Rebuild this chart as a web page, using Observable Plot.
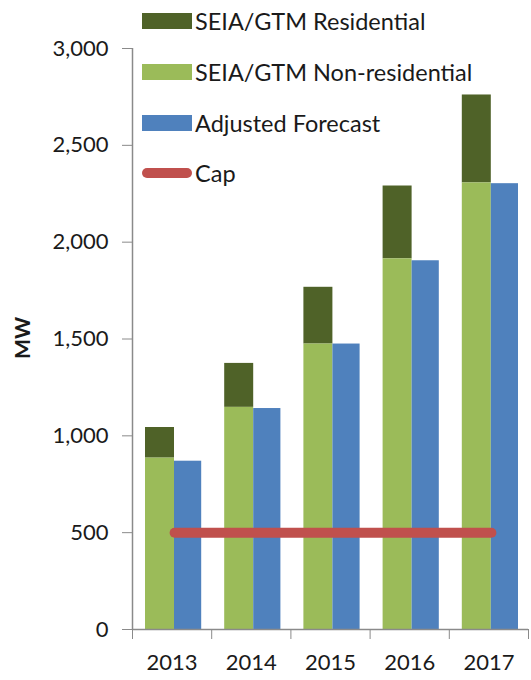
<!DOCTYPE html>
<html>
<head>
<meta charset="utf-8">
<script src="https://cdn.jsdelivr.net/npm/d3@7"></script>
<script src="https://cdn.jsdelivr.net/npm/@observablehq/plot@0.6"></script>
<style>
  html, body { margin: 0; padding: 0; background: #fff; }
  #wrap { position: relative; width: 531px; height: 680px; font-family: Lato, "Open Sans", sans-serif; }
  #legend { position: absolute; left: 142px; top: 0; font-size: 23.5px; color: #1a1a1a; }
  .row { position: absolute; left: 0; height: 24px; display: flex; align-items: center; white-space: nowrap; }
  .sw { width: 50px; height: 16px; margin-right: 3px; flex: none; }
  .line { width: 50px; height: 10px; border-radius: 5px; margin-right: 3px; flex: none; }
</style>
</head>
<body>
<div id="wrap">
  <div id="chart"></div>
  <div id="legend"></div>
</div>
<script>
// Solar installations (MW) by year
const years = [2013, 2014, 2015, 2016, 2017];
const nonResidential = [885, 1147, 1474, 1914, 2306];
const residential = [158, 227, 293, 376, 454];       // stacked on top of non-residential
const adjustedForecast = [869, 1141, 1474, 1904, 2302];
const cap = [500, 500, 500, 500, 500];
const yTicks = [0, 500, 1000, 1500, 2000, 2500, 3000];

const colors = {
  residential: "#4F6228",
  nonResidential: "#9BBB59",
  forecast: "#4F81BD",
  cap: "#C0504D"
};

const rows = years.map((year, i) => ({
  year,
  nonRes: nonResidential[i],
  total: nonResidential[i] + residential[i],
  forecast: adjustedForecast[i],
  cap: cap[i]
}));

const axisColor = "#8a8a8a";
const bw = 79.2; // band width in px, used for per-series insets within each year

const chart = Plot.plot({
  width: 531,
  height: 680,
  marginLeft: 132,
  marginRight: 3,
  marginTop: 48,
  marginBottom: 51,
  style: { fontFamily: "Lato, 'Open Sans', sans-serif", fontSize: "22px", color: "#1a1a1a", background: "#fff" },
  x: { type: "linear", domain: [2012.5, 2017.5] },
  y: { domain: [0, 3000] },
  marks: [
    // residential on top of non-residential
    Plot.rectY(rows, { x1: d => d.year - 0.5, x2: d => d.year + 0.5, y1: "nonRes", y2: "total", fill: colors.residential, insetLeft: 13, insetRight: bw - 42 }),
    Plot.rectY(rows, { x1: d => d.year - 0.5, x2: d => d.year + 0.5, y1: 0, y2: "nonRes", fill: colors.nonResidential, insetLeft: 13, insetRight: bw - 42 }),
    Plot.rectY(rows, { x1: d => d.year - 0.5, x2: d => d.year + 0.5, y1: 0, y2: "forecast", fill: colors.forecast, insetLeft: 42, insetRight: 10 }),
    // cap line
    Plot.lineY(rows, { x: "year", y: "cap", dx: 2.5, stroke: colors.cap, strokeWidth: 10, strokeLinecap: "round" }),
    // axes
    Plot.ruleX([2012.5], { y1: 0, y2: 3000, stroke: axisColor, strokeWidth: 1.5 }),
    Plot.ruleY([0], { stroke: axisColor, strokeWidth: 1.5 }),
    Plot.axisY({ ticks: yTicks, tickFormat: d3.format(","), tickSize: 10, tickPadding: 14, stroke: axisColor, fontSize: 22, label: null }),
    Plot.axisX({ ticks: [2012.5, 2013.5, 2014.5, 2015.5, 2016.5, 2017.5], tickFormat: () => "", tickSize: 10, stroke: axisColor, label: null }),
    Plot.axisX({ ticks: years, tickFormat: d => String(d), tickSize: 0, tickPadding: 25, fontSize: 22, label: null }),
    Plot.text(["MW"], { frameAnchor: "left", textAnchor: "middle", dx: -109, dy: -1, rotate: -90, fontWeight: "bold", fontSize: 21 })
  ]
});
document.getElementById("chart").appendChild(chart);

// legend overlaid at the top-left of the plot area
const legendItems = [
  { label: "SEIA/GTM Residential", color: colors.residential, kind: "sw", top: 9 },
  { label: "SEIA/GTM Non-residential", color: colors.nonResidential, kind: "sw", top: 60 },
  { label: "Adjusted Forecast", color: colors.forecast, kind: "sw", top: 111 },
  { label: "Cap", color: colors.cap, kind: "line", top: 161 }
];
const legend = document.getElementById("legend");
for (const item of legendItems) {
  const row = document.createElement("div");
  row.className = "row";
  row.style.top = item.top + "px";
  const sw = document.createElement("span");
  sw.className = item.kind;
  sw.style.background = item.color;
  const txt = document.createElement("span");
  txt.textContent = item.label;
  row.appendChild(sw);
  row.appendChild(txt);
  legend.appendChild(row);
}
</script>
</body>
</html>
